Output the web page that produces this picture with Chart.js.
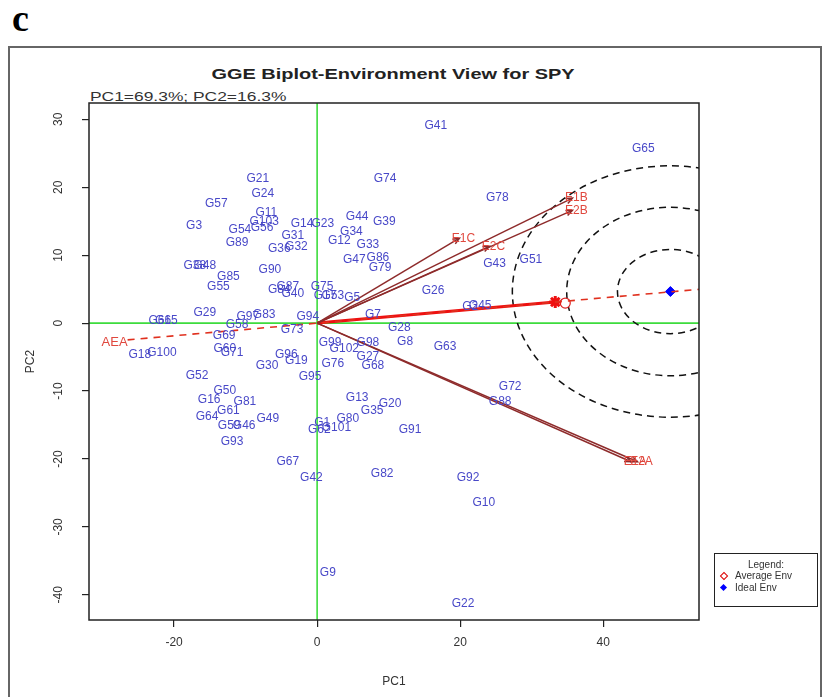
<!DOCTYPE html>
<html>
<head>
<meta charset="utf-8">
<script src="https://cdn.jsdelivr.net/npm/chart.js@4.4.1/dist/chart.umd.min.js"></script>
<style>
  body { margin: 0; background: #fff; font-family: Arial, "Liberation Sans", sans-serif; }
  #wrap { position: relative; width: 827px; height: 697px; overflow: hidden; }
  #frame { position: absolute; left: 8px; top: 46px; width: 810px; height: 670px; border: 2px solid #666; }
  #panel { position: absolute; left: 12px; top: -4px; font: bold 38px "Liberation Serif", "DejaVu Serif", serif; color: #000; }
  #title { position: absolute; left: 0; width: 786px; top: 65px; text-align: center; font: bold 15px Arial, sans-serif; color: #222; transform: scaleX(1.33); }
  #sub { position: absolute; left: 90px; top: 90px; font: 12px Arial, sans-serif; color: #333; transform: scaleX(1.45); transform-origin: left center; }
  #legend { position: absolute; left: 714px; top: 553px; width: 102px; height: 52px; border: 1.5px solid #222; font: 10px Arial, sans-serif; color: #333; }
  #legend .hd { text-align: center; margin-top: 5px; }
  #legend .row { position: relative; height: 12px; padding-left: 20px; line-height: 12px; }
  #legend .mk { position: absolute; left: 6px; top: 3px; width: 5px; height: 5px; transform: rotate(45deg); }
  canvas { position: absolute; left: 0; top: 0; }
</style>
</head>
<body>
<div id="wrap">
  <div id="frame"></div>
  <div id="panel">c</div>
  <div id="title">GGE Biplot-Environment View for SPY</div>
  <div id="sub">PC1=69.3%; PC2=16.3%</div>
  <canvas id="biplot" width="827" height="697"></canvas>
  <div id="legend">
    <div class="hd">Legend:</div>
    <div class="row"><span class="mk" style="border:1.5px solid #d00;width:4px;height:4px"></span>Average Env</div>
    <div class="row"><span class="mk" style="background:#00f"></span>Ideal Env</div>
  </div>
</div>
<script>
/* ── Data ── */
const xTicks = [-20, 0, 20, 40];
const yTicks = [30, 20, 10, 0, -10, -20, -30, -40];

const gNames = ['G41','G65','G21','G74','G24','G57','G78','G11','G103','G3','G54','G56','G14','G23','G44','G39','G34','G31','G12','G33',
  'G89','G36','G32','G47','G86','G79','G43','G51','G38','G48','G90','G85','G55','G87','G84','G40','G75','G17','G53','G5',
  'G26','G45','G2','G29','G97','G83','G94','G7','G15','G66','G58','G28','G73','G69','G18','G100','G60','G71','G96','G19',
  'G30','G99','G102','G98','G27','G68','G76','G8','G63','G95','G52','G50','G16','G81','G61','G64','G59','G46','G49','G93',
  'G72','G88','G13','G20','G35','G80','G1','G101','G62','G91','G67','G42','G82','G92','G10','G9','G22'];
const gX = [16.6,45.6,-8.3,9.5,-7.6,-14.1,25.2,-7.1,-7.4,-17.2,-10.8,-7.7,-2.1,0.8,5.6,9.4,4.8,-3.4,3.1,7.1,
  -11.2,-5.3,-2.9,5.2,8.5,8.8,24.8,29.9,-17.1,-15.7,-6.6,-12.4,-13.8,-4.1,-5.3,-3.4,0.7,1.1,2.2,4.9,
  16.2,22.8,21.4,-15.7,-9.7,-7.4,-1.3,7.8,-21.1,-22.0,-11.2,11.5,-3.5,-13.0,-24.8,-21.7,-12.9,-11.9,-4.3,-2.9,
  -7.0,1.8,3.8,7.1,7.1,7.8,2.2,12.3,17.9,-1.0,-16.8,-12.9,-15.1,-10.1,-12.4,-15.4,-12.3,-10.2,-6.9,-11.9,
  27.0,25.6,5.6,10.2,7.7,4.3,0.7,2.7,0.3,13.0,-4.1,-0.8,9.1,21.1,23.3,1.5,20.4];
const gY = [29.0,25.7,21.3,21.2,19.1,17.6,18.5,16.2,14.9,14.3,13.8,14.0,14.6,14.6,15.7,15.0,13.4,12.8,12.1,11.5,
  11.8,11.0,11.2,9.4,9.6,8.1,8.8,9.3,8.5,8.5,7.9,6.9,5.4,5.4,4.9,4.4,5.4,4.0,4.0,3.7,
  4.7,2.5,2.4,1.5,1.0,1.3,0.9,1.3,0.3,0.3,-0.3,-0.6,-1.0,-1.9,-4.6,-4.4,-3.8,-4.4,-4.6,-5.6,
  -6.3,-2.9,-3.7,-2.9,-5.0,-6.3,-6.0,-2.8,-3.4,-7.9,-7.8,-10.0,-11.3,-11.5,-12.9,-13.7,-15.1,-15.1,-14.0,-17.5,
  -9.4,-11.5,-11.0,-11.9,-12.9,-14.1,-14.6,-15.4,-15.7,-15.7,-20.4,-22.8,-22.1,-22.8,-26.5,-36.8,-41.3];

const envNames = ['E1B','E2B','E1C','E2C','E1A','E2A'];
const envX = [35.7, 35.7, 19.9, 24.1, 43.9, 44.8];
const envY = [18.4, 16.6, 12.5, 11.3, -20.4, -20.4];

const aeaX = [-26.5, 53.4];          // average-environment axis
const aeaY = [-2.47, 4.97];
const avgEnv = [33.3, 3.1];
const avgMark = [34.7, 2.95];
const idealEnv = [49.4, 4.65];
const ringRx = [7.4, 14.5, 22.1];    // concentric rings round the ideal env
const ringRy = [6.2, 12.4, 18.5];

/* ── Helpers ── */
const seg = (x, y) => [{ x: 0, y: 0 }, { x, y }];

const envSets = envNames.map((n, i) => ({
  label: n, data: seg(envX[i], envY[i]), showLine: true,
  borderColor: '#8e2b2b', borderWidth: 1.5, pointRadius: 0,
}));

/* ── Extra drawing: axes lines, rings, labels, box ── */
const biplotExtras = {
  id: 'biplotExtras',
  beforeDatasetsDraw(chart) {
    const { ctx, chartArea: a, scales: { x, y } } = chart;
    ctx.save();
    ctx.beginPath(); ctx.rect(a.left, a.top, a.right - a.left, a.bottom - a.top); ctx.clip();
    // green origin lines
    ctx.strokeStyle = '#3ddc3d'; ctx.lineWidth = 1.6;
    ctx.beginPath();
    ctx.moveTo(x.getPixelForValue(0), a.top); ctx.lineTo(x.getPixelForValue(0), a.bottom);
    ctx.moveTo(a.left, y.getPixelForValue(0)); ctx.lineTo(a.right, y.getPixelForValue(0));
    ctx.stroke();
    // rings
    const cx = x.getPixelForValue(idealEnv[0]), cy = y.getPixelForValue(idealEnv[1]);
    ctx.strokeStyle = '#111'; ctx.lineWidth = 1.5; ctx.setLineDash([7, 5]);
    ringRx.forEach((rx, i) => {
      const px = x.getPixelForValue(idealEnv[0] + rx) - cx;
      const py = cy - y.getPixelForValue(idealEnv[1] + ringRy[i]);
      ctx.beginPath(); ctx.ellipse(cx, cy, px, py, 0, 0, Math.PI * 2); ctx.stroke();
    });
    ctx.restore();
  },
  afterDatasetsDraw(chart) {
    const { ctx, chartArea: a, scales: { x, y } } = chart;
    ctx.save();
    // arrowheads on env vectors
    ctx.strokeStyle = '#8e2b2b'; ctx.lineWidth = 1.5;
    envX.forEach((ex, i) => {
      const px = x.getPixelForValue(ex), py = y.getPixelForValue(envY[i]);
      const ang = Math.atan2(py - y.getPixelForValue(0), px - x.getPixelForValue(0));
      ctx.beginPath();
      ctx.moveTo(px - 7 * Math.cos(ang - 0.4), py - 7 * Math.sin(ang - 0.4));
      ctx.lineTo(px, py);
      ctx.lineTo(px - 7 * Math.cos(ang + 0.4), py - 7 * Math.sin(ang + 0.4));
      ctx.stroke();
    });
    ctx.textAlign = 'center'; ctx.textBaseline = 'middle';
    // genotype labels
    ctx.font = '12px Arial';
    ctx.fillStyle = '#4848c8';
    gNames.forEach((n, i) => ctx.fillText(n, x.getPixelForValue(gX[i]), y.getPixelForValue(gY[i])));
    // environment labels
    ctx.fillStyle = '#e0483e';
    envNames.forEach((n, i) => ctx.fillText(n, x.getPixelForValue(envX[i]) + 4, y.getPixelForValue(envY[i])));
    ctx.font = '13px Arial';
    ctx.fillText('AEA', x.getPixelForValue(aeaX[0]) - 13, y.getPixelForValue(aeaY[0]) + 3);
    // plot box
    ctx.strokeStyle = '#222'; ctx.lineWidth = 1.5;
    ctx.strokeRect(a.left, a.top, a.right - a.left, a.bottom - a.top);
    ctx.restore();
  },
};

/* ── Chart ── */
new Chart(document.getElementById('biplot'), {
  type: 'scatter',
  data: {
    datasets: [
      { label: 'Genotypes', data: gX.map((v, i) => ({ x: v, y: gY[i] })), pointRadius: 0 },
      ...envSets,
      { label: 'AEA', data: aeaX.map((v, i) => ({ x: v, y: aeaY[i] })), showLine: true,
        borderColor: '#e0301e', borderWidth: 1.6, borderDash: [7, 6], pointRadius: 0 },
      { label: 'Average Env', data: seg(avgEnv[0], avgEnv[1]), showLine: true,
        borderColor: '#ee1010', borderWidth: 3, pointRadius: 0 },
      { label: 'Avg star', data: [{ x: avgEnv[0], y: avgEnv[1] }], pointStyle: 'star',
        pointRadius: 6, borderColor: '#ee1010', borderWidth: 3 },
      { label: 'Avg mark', data: [{ x: avgMark[0], y: avgMark[1] }], pointStyle: 'circle',
        pointRadius: 5, borderColor: '#dd2222', backgroundColor: '#fff', borderWidth: 1.2 },
      { label: 'Ideal Env', data: [{ x: idealEnv[0], y: idealEnv[1] }], pointStyle: 'rectRot',
        pointRadius: 5, borderColor: '#0000ff', backgroundColor: '#0000ff' },
    ],
  },
  options: {
    responsive: false, animation: false,
    layout: { padding: { left: 0, right: 128, top: 103, bottom: 0 } },
    plugins: { legend: { display: false }, tooltip: { enabled: false } },
    scales: {
      x: {
        type: 'linear', min: -31.9, max: 53.4,
        afterBuildTicks: s => { s.ticks = xTicks.map(v => ({ value: v })); },
        afterFit: s => { s.height = 77; },
        grid: { drawOnChartArea: false, drawTicks: true, tickLength: 7, color: '#222', lineWidth: 1.2 },
        border: { display: false },
        ticks: { autoSkip: false, padding: 8, color: '#333', font: { family: 'Arial', size: 12 } },
        title: { display: true, text: 'PC1', color: '#333', font: { family: 'Arial', size: 12 }, padding: { top: 0, bottom: 8 } },
      },
      y: {
        type: 'linear', min: -43.7, max: 32.4,
        afterBuildTicks: s => { s.ticks = yTicks.map(v => ({ value: v })); },
        afterFit: s => { s.width = 89; },
        grid: { drawOnChartArea: false, drawTicks: true, tickLength: 7, color: '#222', lineWidth: 1.2 },
        border: { display: false },
        ticks: { autoSkip: false, padding: 15, minRotation: 90, maxRotation: 90, crossAlign: 'center',
                 color: '#333', font: { family: 'Arial', size: 12 } },
        title: { display: true, text: 'PC2', color: '#333', font: { family: 'Arial', size: 12 }, padding: { top: 23, bottom: 0 } },
      },
    },
  },
  plugins: [biplotExtras],
});
</script>
</body>
</html>
